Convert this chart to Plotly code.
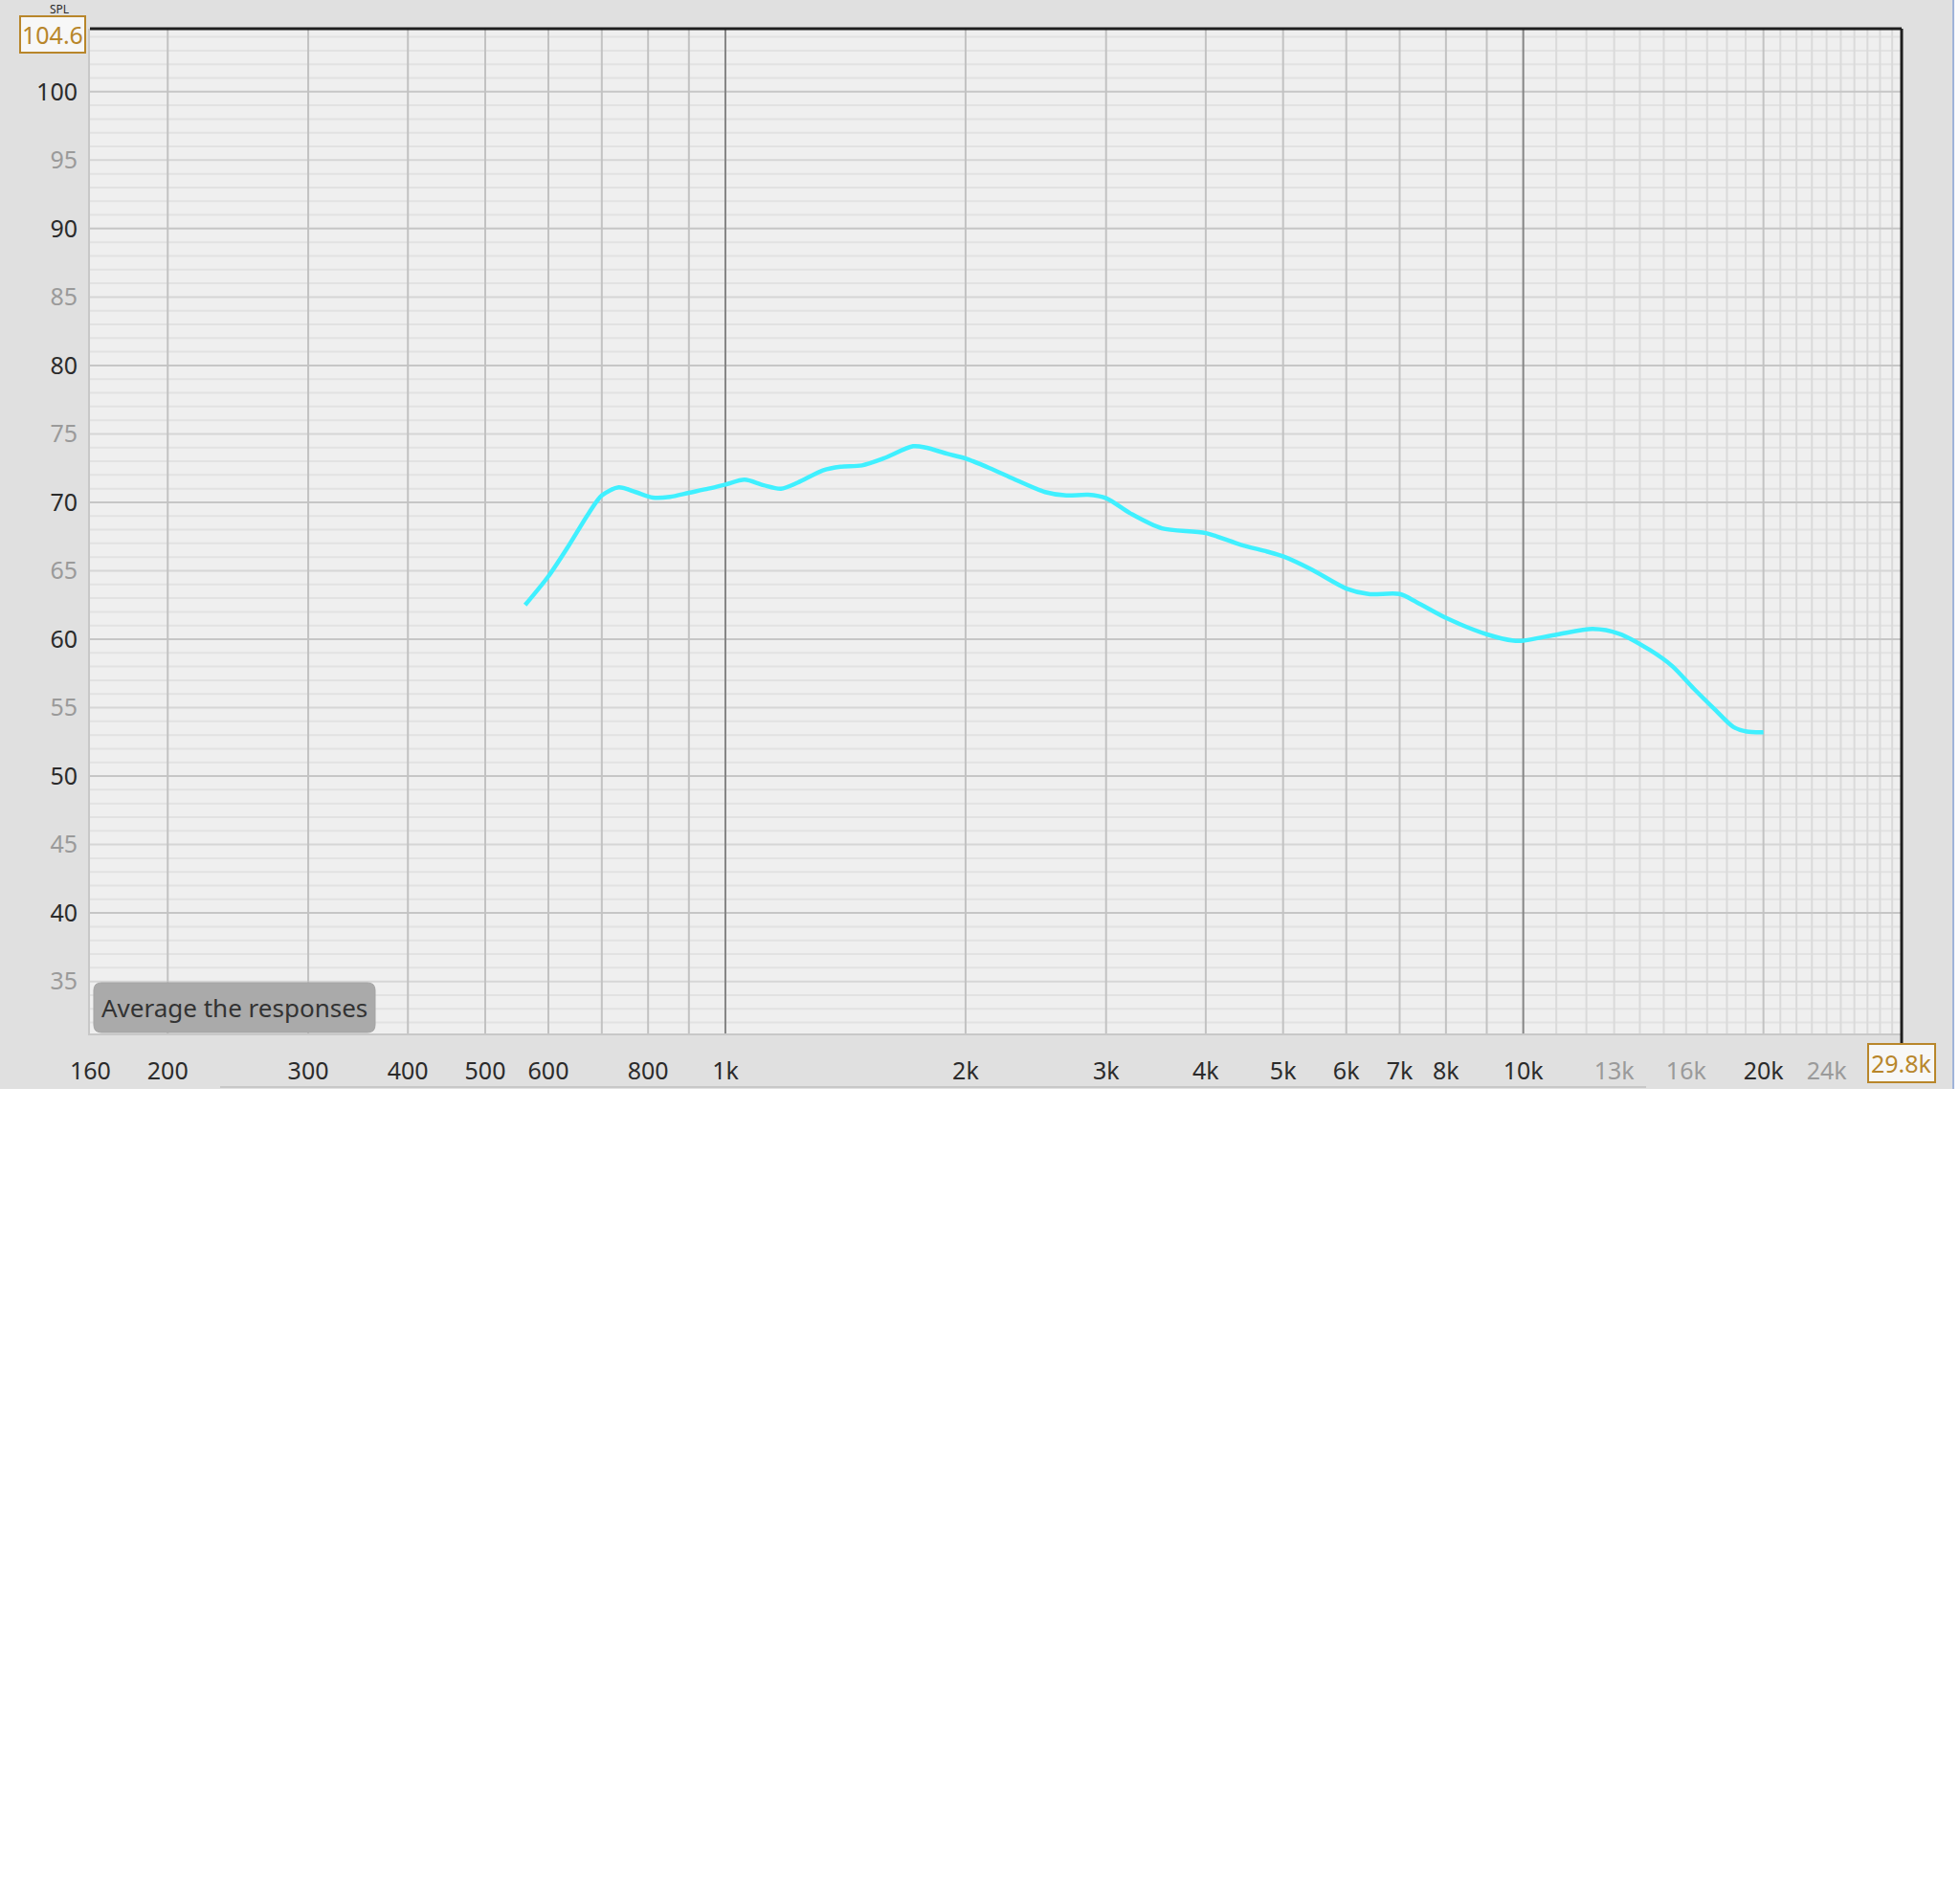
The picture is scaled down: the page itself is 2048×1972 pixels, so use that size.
import math

import plotly.graph_objects as go

# frequency response (Hz, dB SPL)
freq_hz = [561, 600, 634, 674, 700, 735, 772, 811, 852, 900, 952, 1000, 1057, 1117,
           1174, 1233, 1327, 1394, 1483, 1577, 1719, 1784, 1896, 2000, 2144, 2280,
           2517, 2675, 2848, 3000, 3216, 3524, 4000, 4427, 4776, 5000, 5424, 6000,
           6398, 7000, 7355, 8040, 9010, 9725, 10000, 11040, 12220, 13190, 14420,
           15360, 16350, 17430, 18330, 19060, 20000]
spl_db = [62.5, 64.6, 66.7, 69.2, 70.5, 71.1, 70.75, 70.35, 70.4, 70.7, 71.0, 71.3,
          71.65, 71.25, 71.0, 71.45, 72.35, 72.6, 72.7, 73.2, 74.1, 74.0, 73.55, 73.2,
          72.5, 71.8, 70.75, 70.5, 70.55, 70.3, 69.2, 68.1, 67.75, 66.9, 66.4, 66.05,
          65.1, 63.7, 63.3, 63.3, 62.7, 61.5, 60.35, 59.9, 59.9, 60.35, 60.75, 60.4,
          59.2, 58.05, 56.4, 54.8, 53.6, 53.25, 53.2]

x_tick_hz = [160, 200, 300, 400, 500, 600, 800, 1000, 2000, 3000, 4000, 5000, 6000,
             7000, 8000, 10000, 13000, 16000, 20000, 24000]
x_tick_labels = ["160", "200", "300", "400", "500", "600", "800", "1k", "2k", "3k",
                 "4k", "5k", "6k", "7k", "8k", "10k", "13k", "16k", "20k", "24k"]
x_dim_labels = ["13k", "16k", "24k"]

y_ticks = [35, 40, 45, 50, 55, 60, 65, 70, 75, 80, 85, 90, 95, 100]

x_min_hz, x_max_hz = 159.8, 29800
y_min_db, y_max_db = 31.2, 104.6

FONT = "Noto Sans, Open Sans, sans-serif"
DARK_TXT = "#2b2b2b"
DIM_TXT = "#9a9a9a"
GOLD = "#b8862b"

W, H = 2048, 1972
ML, MR, MT, MB = 94, 61, 30, 892
PW, PH = W - ML - MR, H - MT - MB


def px_x(px):
    return (px - ML) / PW


def px_y(py):
    return (H - MB - py) / PH


def colored(text, color):
    return '<span style="color:{}">{}</span>'.format(color, text)


def rounded_rect(x0, y0, x1, y1, r):
    # path in paper coords from pixel corners
    pts = [
        ("M", x0 + r, y0), ("L", x1 - r, y0), ("Q", x1, y0, x1, y0 + r),
        ("L", x1, y1 - r), ("Q", x1, y1, x1 - r, y1), ("L", x0 + r, y1),
        ("Q", x0, y1, x0, y1 - r), ("L", x0, y0 + r), ("Q", x0, y0, x0 + r, y0),
    ]
    out = []
    for p in pts:
        coords = p[1:]
        xy = []
        for i in range(0, len(coords), 2):
            xy.append("{:.5f},{:.5f}".format(px_x(coords[i]), px_y(coords[i + 1])))
        out.append(p[0] + " ".join(xy))
    return " ".join(out) + " Z"


shapes = []


def vline(f, color, width=2):
    shapes.append(dict(type="line", xref="x", yref="paper", x0=f, x1=f, y0=0, y1=1,
                       line=dict(color=color, width=width), layer="below"))


def hline(v, color, width=2):
    shapes.append(dict(type="line", xref="paper", yref="y", x0=0, x1=1, y0=v, y1=v,
                       line=dict(color=color, width=width), layer="below"))


# grid: 1 dB lines, then the light 10k-30k lines, then the heavier ones
for v in range(32, 105):
    if v % 5:
        hline(v, "#e2e2e2")
for k in range(11, 30):
    if k != 20:
        vline(k * 1000, "#dadada")
for v in range(35, 105, 5):
    hline(v, "#c6c6c6" if v % 10 == 0 else "#d6d6d6")
for decade in (100, 1000):
    for m in range(2, 10):
        vline(m * decade, "#c2c2c2")
vline(20000, "#c2c2c2")
vline(1000, "#858585")
vline(10000, "#858585")

# frame: dark top/right, plus the marker down to the 29.8k box
shapes.append(dict(type="line", xref="paper", yref="paper", x0=0, x1=1, y0=1, y1=1,
                   line=dict(color="#1e1e1e", width=3)))
shapes.append(dict(type="line", xref="paper", yref="paper", x0=1, x1=1, y0=0, y1=1,
                   line=dict(color="#1e1e1e", width=3)))
shapes.append(dict(type="line", xref="paper", yref="paper", x0=1, x1=1,
                   y0=0, y1=px_y(1091), line=dict(color="#1e1e1e", width=3)))

# window background: white below the panel and a thin edge on the right
shapes.append(dict(type="rect", xref="paper", yref="paper", x0=px_x(0), x1=px_x(W),
                   y0=px_y(1138), y1=px_y(H), line=dict(width=0), fillcolor="white"))
shapes.append(dict(type="rect", xref="paper", yref="paper", x0=px_x(2042), x1=px_x(W),
                   y0=px_y(0), y1=px_y(1138), line=dict(width=0), fillcolor="#fbfbfd"))
shapes.append(dict(type="line", xref="paper", yref="paper", x0=px_x(2041), x1=px_x(2041),
                   y0=px_y(0), y1=px_y(1138), line=dict(color="#9fb3d9", width=2)))
shapes.append(dict(type="line", xref="paper", yref="paper", x0=px_x(230), x1=px_x(1720),
                   y0=px_y(1136), y1=px_y(1136), line=dict(color="#c8c8c8", width=2)))

# rounded button behind the "Average the responses" label
shapes.append(dict(type="path", xref="paper", yref="paper",
                   path=rounded_rect(98, 1027, 392, 1079, 8),
                   fillcolor="#aaaaaa", line=dict(color="#a4a4a4", width=1)))

fig = go.Figure()
fig.add_trace(go.Scatter(x=freq_hz, y=spl_db, mode="lines",
                         line=dict(color="#3ff0ff", width=4.5, shape="spline", smoothing=0.8),
                         hoverinfo="x+y", showlegend=False))

x_text = [colored(t, DIM_TXT if t in x_dim_labels else DARK_TXT) for t in x_tick_labels]
y_text = [colored(str(v), DARK_TXT if v % 10 == 0 else DIM_TXT) for v in y_ticks]

fig.update_layout(
    width=W, height=H,
    margin=dict(l=ML, r=MR, t=MT, b=MB, pad=0),
    paper_bgcolor="#e0e0e0",
    plot_bgcolor="#efefef",
    font=dict(family=FONT, size=25, color=DARK_TXT),
    showlegend=False,
    shapes=shapes,
    xaxis=dict(type="log", range=[math.log10(x_min_hz), math.log10(x_max_hz)],
               tickmode="array", tickvals=x_tick_hz, ticktext=x_text,
               showgrid=False, zeroline=False, ticks="", ticklabelstandoff=16,
               showline=True, linecolor="#c8c8c8", linewidth=2),
    yaxis=dict(range=[y_min_db, y_max_db], tickmode="array", tickvals=y_ticks,
               ticktext=y_text, showgrid=False, zeroline=False, ticks="",
               ticklabelstandoff=6, showline=True, linecolor="#c8c8c8", linewidth=2),
    annotations=[
        dict(text="SPL", xref="paper", yref="paper", x=px_x(62), y=px_y(0),
             xanchor="center", yanchor="top", yshift=1, showarrow=False,
             font=dict(color=DARK_TXT, size=12, family=FONT)),
        dict(text="104.6", xref="paper", yref="y", x=0, y=y_max_db, xanchor="right",
             yanchor="middle", xshift=-4, yshift=-6, showarrow=False,
             font=dict(color=GOLD, size=25, family=FONT), bgcolor="#f7f7f7",
             bordercolor=GOLD, borderwidth=2, borderpad=1),
        dict(text="29.8k", xref="x", yref="paper", x=math.log10(x_max_hz), y=0,
             xanchor="center", yanchor="top", yshift=-10, showarrow=False,
             font=dict(color=GOLD, size=25, family=FONT), bgcolor="#f7f7f7",
             bordercolor=GOLD, borderwidth=2, borderpad=2),
        dict(text="Average the responses", xref="paper", yref="paper",
             x=px_x(245), y=px_y(1053), xanchor="center", yanchor="middle",
             showarrow=False, font=dict(color="#333333", size=26, family=FONT)),
    ],
)

fig.write_html("out.html", config={"displayModeBar": False},
               post_script="document.body.style.margin='0';")
